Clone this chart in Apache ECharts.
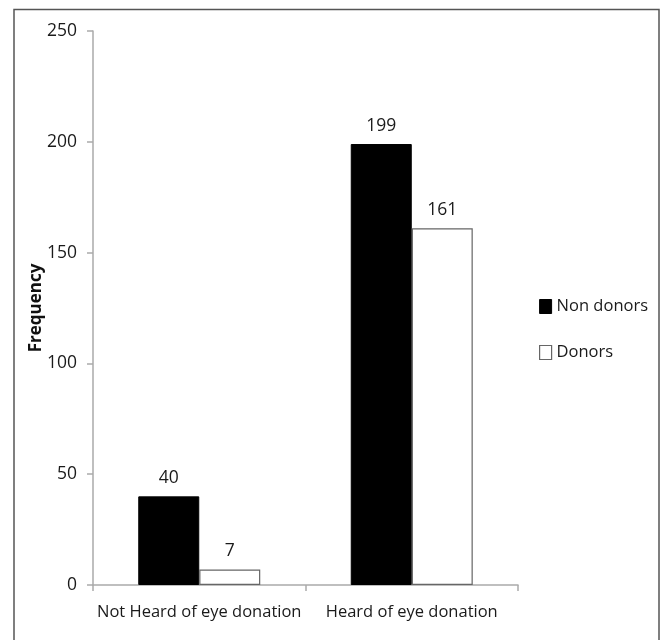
<!DOCTYPE html>
<html>
<head>
<meta charset="utf-8">
<script src="https://cdn.jsdelivr.net/npm/echarts@6/dist/echarts.min.js"></script>
<style>
  html, body { margin: 0; padding: 0; background: #fff; }
  #chart { width: 660px; height: 640px; }
</style>
</head>
<body>
<div id="chart"></div>
<script>
// Awareness of eye donation, by donor status
const categories = ['Not Heard of eye donation', 'Heard of eye donation'];
const nonDonors = [40, 199];
const donors = [7, 161];
const yTicks = [0, 50, 100, 150, 200, 250];

const font = '"Open Sans", "Noto Sans", sans-serif';
const ink = '#1a1a1a';
const chart = echarts.init(document.getElementById('chart'), null, { renderer: 'canvas' });

chart.setOption({
  backgroundColor: '#fff',
  animation: false,
  graphic: [{
    type: 'rect',
    shape: { x: 14, y: 9.5, width: 645, height: 640 },
    style: { fill: 'none', stroke: '#555', lineWidth: 1.5 },
    silent: true
  }],
  grid: { left: 93, right: 142, top: 31, bottom: 55 },
  legend: {
    orient: 'vertical',
    left: 539,
    top: 298,
    padding: 0,
    itemGap: 29,
    itemWidth: 12,
    itemHeight: 14,
    icon: 'rect',
    textStyle: { fontFamily: font, fontSize: 16.5, color: ink },
    data: [
      { name: 'Non donors', itemStyle: { color: '#000', borderColor: '#000', borderWidth: 1 } },
      { name: 'Donors', itemStyle: { color: '#fff', borderColor: '#666', borderWidth: 1.2 } }
    ]
  },
  xAxis: {
    type: 'category',
    data: categories,
    axisLine: { lineStyle: { color: '#aaa', width: 1.5 } },
    axisTick: { show: true, length: 6, lineStyle: { color: '#aaa', width: 1.5 } },
    axisLabel: { interval: 0, fontFamily: font, fontSize: 16.5, color: ink, margin: 19 }
  },
  yAxis: {
    type: 'value',
    min: yTicks[0],
    max: yTicks[yTicks.length - 1],
    interval: yTicks[1] - yTicks[0],
    name: 'Frequency',
    nameLocation: 'middle',
    nameGap: 48,
    nameMoveOverlap: false,
    nameTextStyle: { fontFamily: font, fontSize: 17, fontWeight: 'bold', color: '#111' },
    axisLine: { show: true, lineStyle: { color: '#aaa', width: 1.5 } },
    axisTick: { show: true, length: 6, lineStyle: { color: '#aaa', width: 1.5 } },
    splitLine: { show: false },
    axisLabel: { fontFamily: font, fontSize: 17.5, color: ink, margin: 16 }
  },
  series: [
    {
      name: 'Non donors',
      type: 'bar',
      data: nonDonors,
      barWidth: 61,
      barGap: '0%',
      itemStyle: { color: '#000', borderColor: '#000', borderWidth: 1 },
      label: { show: true, position: 'top', distance: 9, fontFamily: font, fontSize: 17.5, color: ink }
    },
    {
      name: 'Donors',
      type: 'bar',
      data: donors,
      barWidth: 61,
      barGap: '0%',
      itemStyle: { color: '#fff', borderColor: '#666', borderWidth: 1.2 },
      label: { show: true, position: 'top', distance: 9, fontFamily: font, fontSize: 17.5, color: ink }
    }
  ]
});
</script>
</body>
</html>
